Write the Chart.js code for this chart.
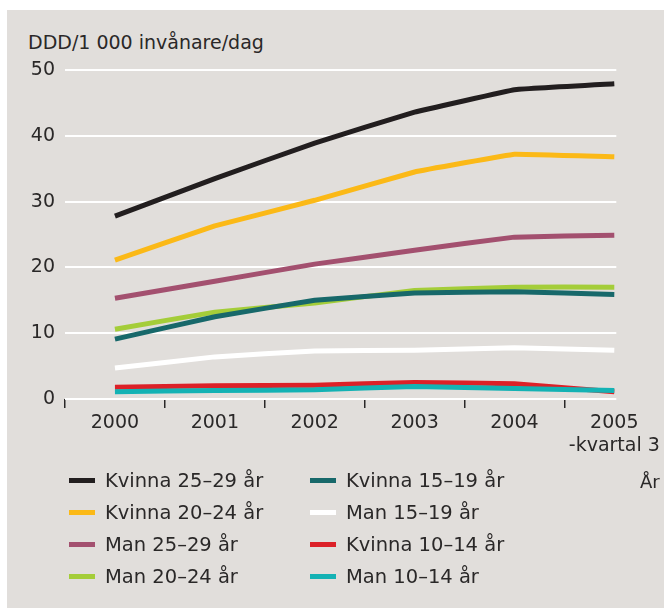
<!DOCTYPE html>
<html>
<head>
<meta charset="utf-8">
<script src="https://cdn.jsdelivr.net/npm/chart.js@4/dist/chart.umd.min.js"></script>
<style>
  body { margin: 0; background: #fff; font-family: "DejaVu Sans", sans-serif; color: #2a2828; }
  #panel { position: absolute; left: 7px; top: 10px; width: 657px; height: 598px; background: #e1dedb; }
  #ytitle { position: absolute; left: 21px; top: 20px; font-size: 19px; line-height: 24px; white-space: nowrap; }
  #chartBox { position: absolute; left: 0; top: 0; width: 657px; height: 455px; }
  #legend { position: absolute; left: 0; top: 454px; width: 657px; height: 140px; }
  .item { position: absolute; display: flex; align-items: center; height: 32px; font-size: 19.5px; white-space: nowrap; }
  .swatch { width: 26px; height: 5px; margin-right: 10px; }
  #unit { position: absolute; left: 633px; top: 460px; font-size: 18px; line-height: 24px; }
</style>
</head>
<body>
<div id="panel">
  <div id="ytitle">DDD/1 000 invånare/dag</div>
  <div id="chartBox"><canvas id="chart" width="657" height="455"></canvas></div>
  <div id="legend"></div>
  <div id="unit">År</div>
</div>
<script>
// Kategorier (år)
const years = ['2000', '2001', '2002', '2003', '2004', ['2005', '-kvartal 3']];

// Serier, DDD/1 000 invånare/dag
const kvinna2529 = [27.8, 33.5, 38.9, 43.6, 47.0, 47.9];
const kvinna2024 = [21.1, 26.3, 30.2, 34.5, 37.2, 36.8];
const man2529    = [15.3, 17.9, 20.5, 22.6, 24.6, 24.9];
const man2024    = [10.6, 13.2, 14.6, 16.5, 17.0, 17.0];
const kvinna1519 = [9.1, 12.5, 15.0, 16.1, 16.3, 15.9];
const man1519    = [4.7, 6.4, 7.3, 7.4, 7.8, 7.4];
const kvinna1014 = [1.8, 2.0, 2.1, 2.5, 2.3, 1.1];
const man1014    = [1.1, 1.3, 1.4, 1.9, 1.6, 1.3];

const names  = ['Kvinna 25–29 år', 'Kvinna 20–24 år', 'Man 25–29 år', 'Man 20–24 år',
                'Kvinna 15–19 år', 'Man 15–19 år', 'Kvinna 10–14 år', 'Man 10–14 år'];
const series = [kvinna2529, kvinna2024, man2529, man2024, kvinna1519, man1519, kvinna1014, man1014];
const colors = ['#221e1f', '#fbb917', '#a3506f', '#a4cd39', '#17686a', '#ffffff', '#dc2128', '#14b2b4'];

const yTicks = [0, 10, 20, 30, 40, 50];

const datasets = series.map((vals, i) => ({
  label: names[i],
  data: vals.map((v, j) => ({ x: j, y: v })),
  borderColor: colors[i],
  backgroundColor: colors[i],
  borderWidth: 5,
  borderCapStyle: 'butt',
  borderJoinStyle: 'round',
  pointRadius: 0,
  tension: 0.05,
  fill: false,
  order: -i
}));

const font = { family: 'DejaVu Sans', size: 19 };

new Chart(document.getElementById('chart'), {
  type: 'line',
  data: { datasets: datasets },
  options: {
    responsive: false,
    devicePixelRatio: 1,
    animation: false,
    layout: { padding: { left: 21, top: 60, right: 47, bottom: 0 } },
    plugins: { legend: { display: false }, tooltip: { enabled: false } },
    scales: {
      x: {
        type: 'linear',
        min: -0.5,
        max: 5.02,
        afterBuildTicks: s => {
          const t = [];
          for (let v = -0.5; v <= 5; v += 0.5) t.push({ value: v });
          s.ticks = t;
        },
        afterFit: s => { s.height = 66; },
        border: { display: false },
        grid: {
          drawOnChartArea: false,
          tickLength: 9,
          lineWidth: 1.5,
          color: ctx => (ctx.tick && Number.isInteger(ctx.tick.value)) ? 'rgba(0,0,0,0)' : '#2a2828'
        },
        ticks: {
          autoSkip: false,
          maxRotation: 0,
          padding: 4,
          color: '#2a2828',
          font: font,
          callback: v => Number.isInteger(v) ? years[v] : ''
        }
      },
      y: {
        min: 0,
        max: 50,
        afterBuildTicks: s => { s.ticks = yTicks.map(v => ({ value: v })); },
        afterFit: s => { s.width = 37; },
        border: { display: false },
        grid: { color: '#ffffff', lineWidth: 2, drawTicks: false },
        ticks: { padding: 10, color: '#2a2828', font: font }
      }
    }
  }
});

// Legend i två kolumner
const legend = document.getElementById('legend');
const colX = [62, 303];
names.forEach((n, i) => {
  const col = Math.floor(i / 4), row = i % 4;
  const el = document.createElement('div');
  el.className = 'item';
  el.style.left = colX[col] + 'px';
  el.style.top = (row * 32) + 'px';
  el.innerHTML = '<span class="swatch" style="background:' + colors[i] + '"></span>' + n;
  legend.appendChild(el);
});
</script>
</body>
</html>
